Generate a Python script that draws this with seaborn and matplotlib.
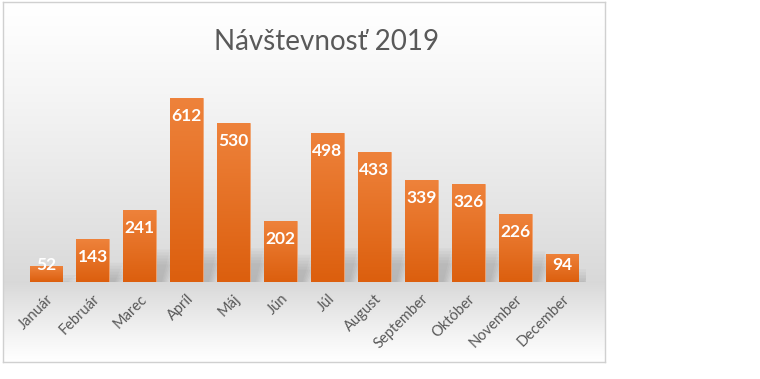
import numpy as np
import pandas as pd
import matplotlib.pyplot as plt
import seaborn as sns
from matplotlib.colors import LinearSegmentedColormap
from matplotlib.patches import Polygon

# data
months = ["Január", "Február", "Marec", "Apríl", "Máj", "Jún", "Júl",
          "August", "September", "Október", "November", "December"]
visits = [52, 143, 241, 612, 530, 202, 498, 433, 339, 326, 226, 94]

df = pd.DataFrame({"month": months, "visits": visits})

sns.set_theme(style="white")
plt.rcParams["font.family"] = ["Lato", "DejaVu Sans"]

fig = plt.figure(figsize=(7.6, 3.79), dpi=100)

# chart area background (white -> grey floor -> white)
bg = fig.add_axes([3 / 760, 1 - 362 / 379, 602 / 760, 360 / 379], zorder=0)
yy = np.linspace(0, 1, 400)
floor = 0.78
shade = np.where(yy < floor,
                 1 - 0.15 * (yy / floor) ** 1.2,
                 1 - 0.15 * np.clip(1 - (yy - floor) / (1 - floor), 0, 1) ** 1.1)
img = np.repeat(shade.reshape(-1, 1, 1), 3, axis=2).repeat(4, axis=1)
bg.imshow(img, aspect="auto", extent=[0, 1, 1, 0], vmin=0, vmax=1)
bg.set_xlim(0, 1)
bg.set_ylim(1, 0)
bg.set_xticks([])
bg.set_yticks([])
for s in bg.spines.values():
    s.set_color("#d0d0d0")
    s.set_linewidth(1.0)

ax = fig.add_axes([22.5 / 760, 1 - 282 / 379, 563 / 760, 210 / 379], zorder=1)
ax.patch.set_alpha(0)

sns.barplot(data=df, x="month", y="visits", color="#E8701F", width=0.7,
            edgecolor="#F3A470", linewidth=0.6, ax=ax, zorder=3)

# soft shadows behind bars + gradient fill
cmap = LinearSegmentedColormap.from_list("bar", ["#DC5F0E", "#EE823B"])
for p in ax.patches:
    x0, w, h = p.get_x(), p.get_width(), p.get_height()
    sh = min(h, 250) * 0.45
    for k in range(6):
        d = 0.03 * k
        ax.add_patch(Polygon([(x0 + d, 0), (x0 + w + 0.12 + d, 0),
                              (x0 + w + 0.3 + d, sh - 10 * k), (x0 + 0.2 + d, sh - 10 * k)],
                             closed=True, color="#505050", alpha=0.045, lw=0,
                             zorder=2))
    im = ax.imshow(np.linspace(0, 1, 100).reshape(-1, 1), cmap=cmap,
                   aspect="auto", extent=[x0, x0 + w, 0, h], origin="lower",
                   zorder=3.5)
    im.set_clip_path(p)

ax.set_xlim(-0.5, 11.5)
ax.set_ylim(0, 700)

for i, v in enumerate(visits):
    ax.text(i, max(v - 60, 57), str(v), ha="center", va="center",
            color="white", fontsize=12.5, fontweight="bold", zorder=5)

ax.set_xlabel("")
ax.set_ylabel("")
ax.set_yticks([])
ax.tick_params(axis="x", length=0, pad=7)
plt.setp(ax.get_xticklabels(), rotation=45, ha="right", rotation_mode="anchor",
         color="#595959", fontsize=10.5)
sns.despine(ax=ax, left=True, bottom=True)

fig.text(327 / 760, 1 - 42 / 379, "Návštevnosť 2019", ha="center", va="center",
         fontsize=20, color="#595959")

fig.savefig("out.png", dpi=100)
